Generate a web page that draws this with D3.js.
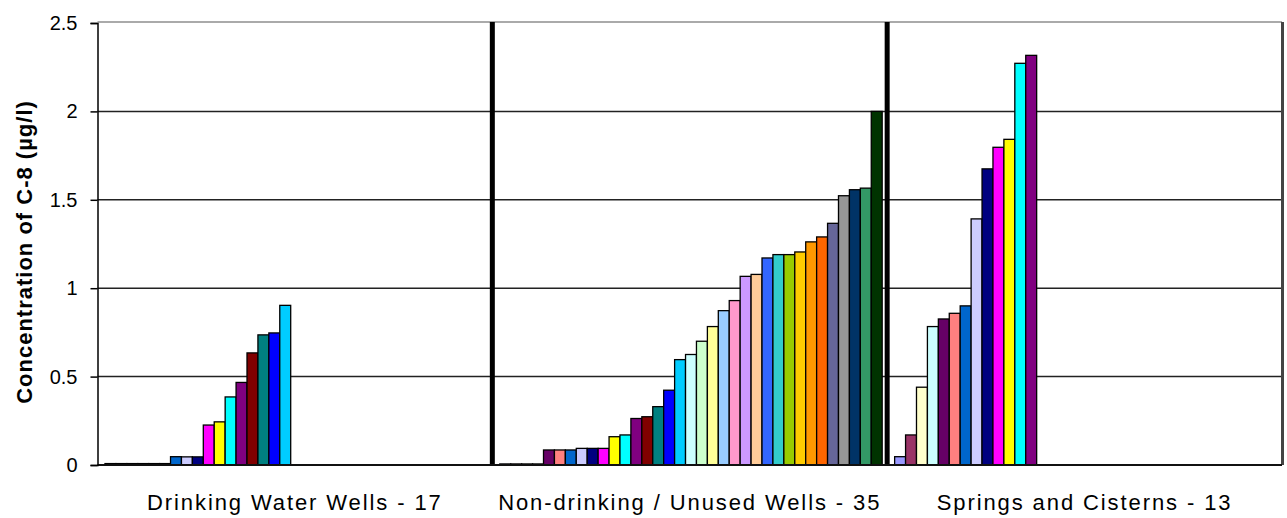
<!DOCTYPE html>
<html>
<head>
<meta charset="utf-8">
<script src="https://cdn.jsdelivr.net/npm/d3@7"></script>
<style>
    body { margin: 0; background: #fff; }
    #chart { width: 1287px; height: 518px; }
    .tick text { font-family: "Liberation Sans", Arial, sans-serif; font-size: 20px; fill: #000; }
    .cat--label { font-family: "Liberation Sans", Arial, sans-serif; font-size: 22px; letter-spacing: 1.9px; fill: #000; }
    .axis--label { font-family: "Liberation Sans", Arial, sans-serif; font-size: 22px; font-weight: bold; letter-spacing: 1px; }
</style>
</head>
<body>
<div id="chart"></div>
<script>
// categories along the x axis
const categories = ["Drinking Water Wells - 17", "Non-drinking / Unused Wells - 35", "Springs and Cisterns - 13"];

// excel default series colours, one per well slot
const seriesColors = ["#9999FF","#993366","#FFFFCC","#CCFFFF","#660066","#FF8080","#0066CC","#CCCCFF",
    "#000080","#FF00FF","#FFFF00","#00FFFF","#800080","#800000","#008080","#0000FF","#00CCFF","#CCFFFF",
    "#CCFFCC","#FFFF99","#99CCFF","#FF99CC","#CC99FF","#FFCC99","#3366FF","#33CCCC","#99CC00","#FFCC00",
    "#FF9900","#FF6600","#666699","#969696","#003366","#339966","#003300"];

// C-8 concentration (µg/l), sorted within each group
const drinkingWells = [0.008,0.008,0.008,0.008,0.008,0.008,0.047,0.046,0.046,0.226,0.244,0.385,0.467,0.634,0.736,0.747,0.903];
const unusedWells = [0.006,0.006,0.006,0.006,0.085,0.085,0.085,0.094,0.094,0.094,0.16,0.17,0.263,0.273,0.33,0.423,0.596,0.625,0.70,0.783,0.873,0.93,1.067,1.078,1.171,1.19,1.19,1.205,1.262,1.29,1.367,1.523,1.557,1.566,2.0];
const springs = [0.047,0.17,0.44,0.783,0.826,0.858,0.90,1.392,1.675,1.797,1.842,2.272,2.317];

const yTicks = [0, 0.5, 1, 1.5, 2, 2.5];

const groups = [drinkingWells, unusedWells, springs];

const width = 1287;
const height = 518;
const margin = {top: 23, left: 97.5, right: 5, bottom: 53};

const svg = d3.select("#chart")
    .append("svg")
    .attr("width", width)
    .attr("height", height);

/*
SCALES
*/
const xScale = d3.scaleBand()
    .domain(categories)
    .range([margin.left, width - margin.right]);

const seriesScale = d3.scaleBand()
    .domain(d3.range(seriesColors.length))
    .range([0, xScale.bandwidth()])
    .paddingInner(0)
    .paddingOuter(0.57)
    .align(0.6);

const yScale = d3.scaleLinear()
    .domain([0, 2.5])
    .range([height - margin.bottom, margin.top]);

/*
GRIDLINES
*/
svg.append("g")
    .selectAll("line")
    .data(yTicks.slice(1, -1))
    .enter()
    .append("line")
        .attr("x1", margin.left)
        .attr("x2", width - margin.right)
        .attr("y1", d => yScale(d))
        .attr("y2", d => yScale(d))
        .attr("stroke", "#222")
        .attr("stroke-width", 1.5);

/*
BARS
*/
const bars = [];
groups.forEach(function(vals, g) {
    vals.forEach(function(v, i) {
        bars.push({cat: categories[g], idx: i, value: v});
    });
});

svg.append("g")
    .selectAll("rect")
    .data(bars)
    .enter()
    .append("rect")
        .attr("x", d => xScale(d.cat) + seriesScale(d.idx))
        .attr("y", d => yScale(d.value))
        .attr("width", seriesScale.bandwidth())
        .attr("height", d => yScale(0) - yScale(d.value))
        .attr("fill", d => seriesColors[d.idx])
        .attr("stroke", "#000")
        .attr("stroke-width", 1.3);

/*
TOP / RIGHT BORDER + GROUP SEPARATORS
*/
svg.append("line")
    .attr("x1", margin.left).attr("x2", width - margin.right)
    .attr("y1", margin.top - 1).attr("y2", margin.top - 1)
    .attr("stroke", "#aaa").attr("stroke-width", 2);

svg.append("line")
    .attr("x1", width - margin.right + 0.5).attr("x2", width - margin.right + 0.5)
    .attr("y1", margin.top - 1).attr("y2", yScale(0))
    .attr("stroke", "#444").attr("stroke-width", 3);

svg.append("g")
    .selectAll("line")
    .data(categories.slice(1))
    .enter()
    .append("line")
        .attr("x1", d => xScale(d))
        .attr("x2", d => xScale(d))
        .attr("y1", margin.top - 1)
        .attr("y2", yScale(0))
        .attr("stroke", "#000")
        .attr("stroke-width", 5);

/*
AXES
*/
svg.append("line")
    .attr("x1", margin.left).attr("x2", width - margin.right)
    .attr("y1", yScale(0)).attr("y2", yScale(0))
    .attr("stroke", "#111").attr("stroke-width", 2);

const yAxis = svg.append("g")
    .attr("class", "axis")
    .attr("transform", `translate(${margin.left},0)`)
    .call(d3.axisLeft(yScale).tickValues(yTicks).tickFormat(d3.format("")).tickSize(7).tickPadding(13));

yAxis.select(".domain").attr("stroke", "#000").attr("stroke-width", 1.5);
yAxis.selectAll(".tick line").attr("stroke", "#000").attr("stroke-width", 1.5);

svg.append("g")
    .selectAll("text")
    .data(categories)
    .enter()
    .append("text")
        .attr("class", "cat--label")
        .attr("x", d => xScale(d) + xScale.bandwidth() / 2)
        .attr("y", height - 8)
        .attr("text-anchor", "middle")
        .text(d => d);

svg.append("text")
    .attr("class", "axis--label")
    .attr("transform", "rotate(-90)")
    .attr("x", -(margin.top + yScale(0)) / 2 - 8)
    .attr("y", 32)
    .attr("text-anchor", "middle")
    .text("Concentration of C-8 (µg/l)");
</script>
</body>
</html>
